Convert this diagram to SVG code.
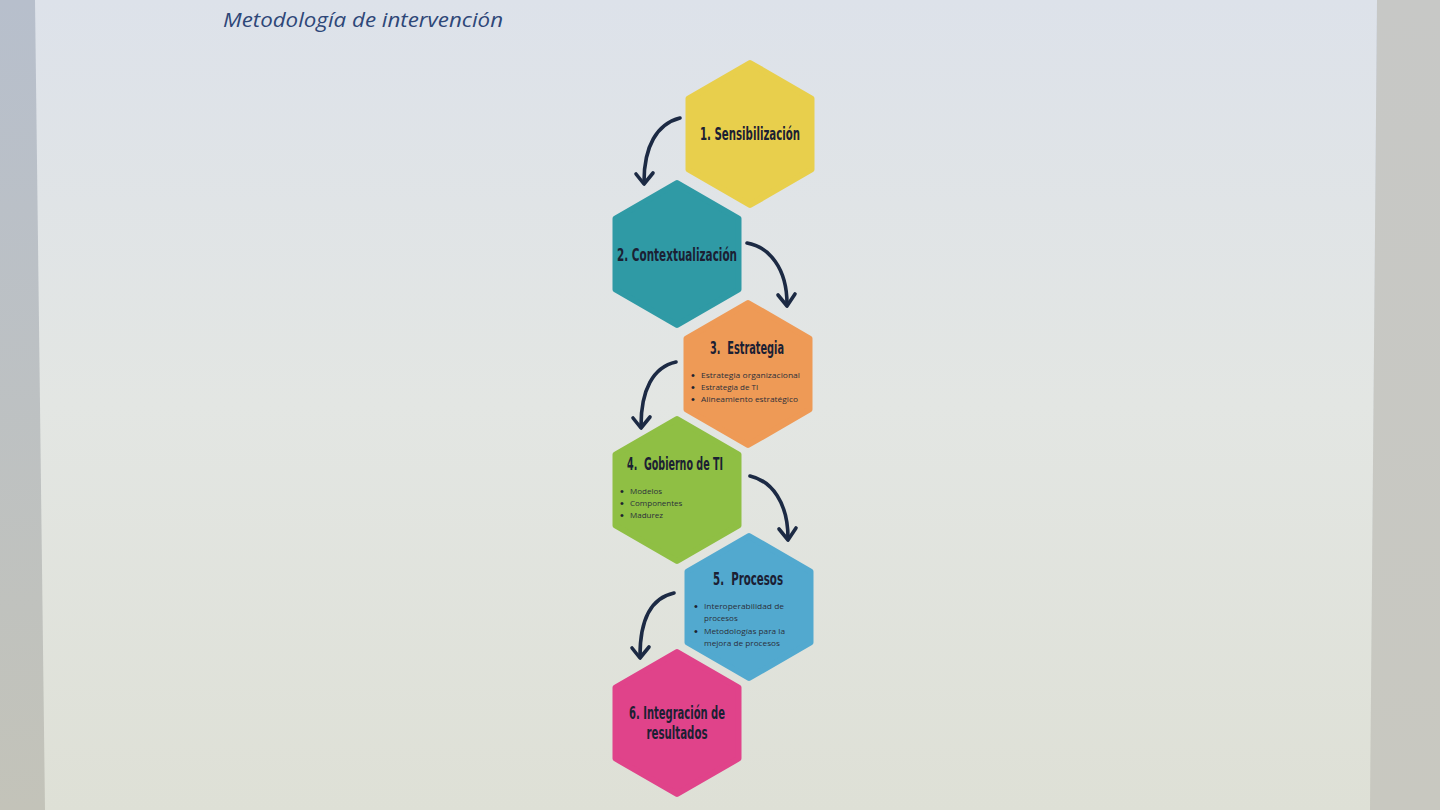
<svg xmlns="http://www.w3.org/2000/svg" width="1440" height="810" viewBox="0 0 1440 810">
<defs>
<linearGradient id="pageG" x1="0" y1="0" x2="0" y2="1">
<stop offset="0" stop-color="#dde2ea"/>
<stop offset="0.5" stop-color="#e3e6e3"/>
<stop offset="1" stop-color="#dee0d6"/>
</linearGradient>
<linearGradient id="leftG" x1="0" y1="0" x2="0" y2="1">
<stop offset="0" stop-color="#b7bfcc"/>
<stop offset="1" stop-color="#c3c3b9"/>
</linearGradient>
<linearGradient id="rightG" x1="0" y1="0" x2="0" y2="1">
<stop offset="0" stop-color="#c7c8c6"/>
<stop offset="1" stop-color="#c8c8c0"/>
</linearGradient>
</defs>
<style>
.hex{stroke-width:6;stroke-linejoin:round}
.h1{font-family:"Liberation Sans Narrow","DejaVu Sans Condensed","Liberation Sans",sans-serif;font-weight:bold;font-size:18px;fill:#1b2033;text-anchor:middle;white-space:pre}
.b{font-family:"Open Sans","Liberation Sans",sans-serif;font-size:8px;fill:#2b2f3a}
.dot{font-family:"Liberation Sans",sans-serif;font-size:11px;fill:#1e2230}
.arr{fill:none;stroke:#1c2a44;stroke-width:3.6;stroke-linecap:round;stroke-linejoin:round}
.title{font-family:"Open Sans","Liberation Sans",sans-serif;font-style:italic;font-size:20px;fill:#2e4778}
</style>
<rect x="0" y="0" width="1440" height="810" fill="url(#leftG)"/>
<polygon points="1377,0 1440,0 1440,810 1370,810" fill="url(#rightG)"/>
<polygon points="35,0 1377,0 1370,810 45,810" fill="url(#pageG)"/>
<text class="title" x="223" y="27" textLength="280" lengthAdjust="spacingAndGlyphs">Metodología de intervención</text>

<g id="node1">
<polygon class="hex" fill="#e8cf4c" stroke="#e8cf4c" points="750,63 811.5,98.5 811.5,169.5 750,205 688.5,169.5 688.5,98.5"/>
<text class="h1" x="750" y="140" textLength="100" lengthAdjust="spacingAndGlyphs">1. Sensibilización</text>
</g>
<g id="node2">
<polygon class="hex" fill="#2f9aa5" stroke="#2f9aa5" points="677,183 738.5,218.5 738.5,289.5 677,325 615.5,289.5 615.5,218.5"/>
<text class="h1" x="677" y="261" textLength="120" lengthAdjust="spacingAndGlyphs">2. Contextualización</text>
</g>
<g id="node3">
<polygon class="hex" fill="#ee9a56" stroke="#ee9a56" points="748,303 809.5,338.5 809.5,409.5 748,445 686.5,409.5 686.5,338.5"/>
<text class="h1" x="747" y="354" textLength="74" lengthAdjust="spacingAndGlyphs">3.  Estrategia</text>
<text class="dot" x="691" y="379">•</text><text class="dot" x="691" y="391">•</text><text class="dot" x="691" y="403">•</text>
<g class="b">
<text x="701" y="378" textLength="99" lengthAdjust="spacingAndGlyphs">Estrategia organizacional</text>
<text x="701" y="390">Estrategia de TI</text>
<text x="701" y="402" textLength="97" lengthAdjust="spacingAndGlyphs">Alineamiento estratégico</text>
</g>
</g>
<g id="node4">
<polygon class="hex" fill="#8fbf44" stroke="#8fbf44" points="677,419 738.5,454.5 738.5,525.5 677,561 615.5,525.5 615.5,454.5"/>
<text class="h1" x="675" y="470" textLength="96" lengthAdjust="spacingAndGlyphs">4.  Gobierno de TI</text>
<text class="dot" x="620" y="495">•</text><text class="dot" x="620" y="507">•</text><text class="dot" x="620" y="519">•</text>
<g class="b">
<text x="630" y="494">Modelos</text>
<text x="630" y="506">Componentes</text>
<text x="630" y="518">Madurez</text>
</g>
</g>
<g id="node5">
<polygon class="hex" fill="#52a9cf" stroke="#52a9cf" points="749,536 810.5,571.5 810.5,642.5 749,678 687.5,642.5 687.5,571.5"/>
<text class="h1" x="748" y="585" textLength="70" lengthAdjust="spacingAndGlyphs">5.  Procesos</text>
<text class="dot" x="694" y="610">•</text><text class="dot" x="694" y="635">•</text>
<g class="b">
<text x="704" y="609" textLength="80" lengthAdjust="spacingAndGlyphs">Interoperabilidad de</text>
<text x="704" y="621">procesos</text>
<text x="704" y="634" textLength="81" lengthAdjust="spacingAndGlyphs">Metodologías para la</text>
<text x="704" y="646" textLength="76" lengthAdjust="spacingAndGlyphs">mejora de procesos</text>
</g>
</g>
<g id="node6">
<polygon class="hex" fill="#e0438a" stroke="#e0438a" points="677,652 738.5,687.5 738.5,758.5 677,794 615.5,758.5 615.5,687.5"/>
<text class="h1" x="677" y="719" textLength="96" lengthAdjust="spacingAndGlyphs">6. Integración de</text>
<text class="h1" x="677" y="739" textLength="61" lengthAdjust="spacingAndGlyphs">resultados</text>
</g>

<g id="connectors">
<path class="arr" d="M680,118 C657,124 644,146 644,182"/>
<path class="arr" d="M636,174 L644,184 L653,173"/>
<path class="arr" d="M747,243 C769,247 787,268 787,304"/>
<path class="arr" d="M778,295 L787,306 L795,294"/>
<path class="arr" d="M676,362 C653,367 641,390 641,426"/>
<path class="arr" d="M633,418 L641,428 L650,417"/>
<path class="arr" d="M750,476 C772,481 788,503 788,538"/>
<path class="arr" d="M779,529 L788,540 L796,528"/>
<path class="arr" d="M674,593 C651,598 640,620 640,656"/>
<path class="arr" d="M632,648 L640,658 L649,647"/>
</g>
</svg>
